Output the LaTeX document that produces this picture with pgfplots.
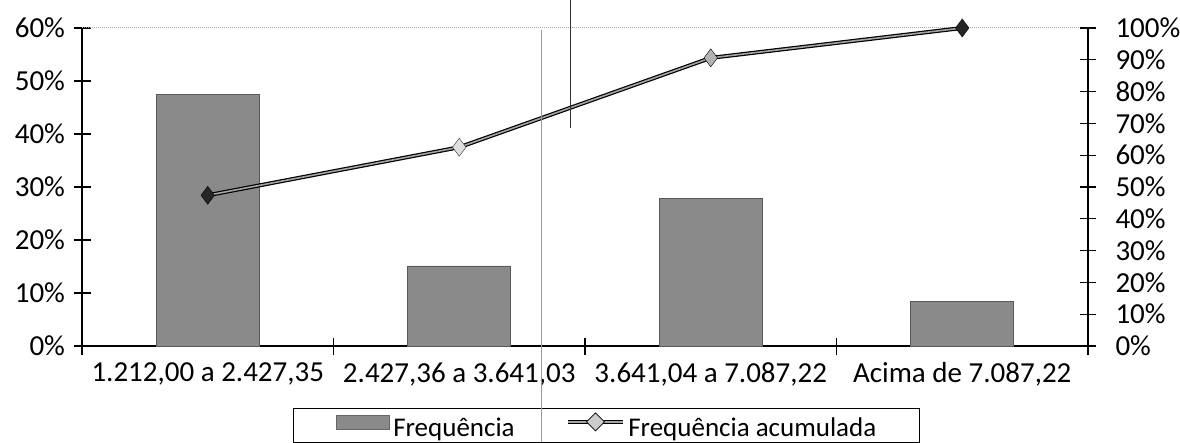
\documentclass[border=0pt]{standalone}
\usepackage{fontspec}
\setmainfont{Carlito}
\usepackage{pgfplots}
\pgfplotsset{compat=1.18}
\pgfplotstableread{
x freq
0 47.4
1 15.1
2 27.8
3 8.4
}\freqtab
\pgfplotstableread{
x cum cls
0 47.4 a
1 62.5 b
2 90.6 c
3 100.0 a
}\cumtab
\definecolor{barfill}{RGB}{138,138,138}
\definecolor{linegray}{RGB}{165,165,165}
\begin{document}
\begin{tikzpicture}
\pgfplotsset{
  base/.style={scale only axis, width=1006pt, height=318pt,
    at={(82pt,96pt)}, anchor=south west, xmin=-0.5, xmax=3.5,
    tick label style={font=\fontsize{29}{34}\selectfont},
    axis line style={black, line width=1.1pt},
    major tick style={black, line width=1.1pt},
    clip=false},
}
\begin{axis}[base, ymin=0, ymax=60,
  axis x line*=bottom, axis y line*=left,
  xtick={-0.5,0.5,1.5,2.5,3.5}, xticklabels={},
  tick align=center,
  major tick length=17pt,
  extra x ticks={0,1,2,3},
  extra x tick labels={{1.212,00 a 2.427,35},{2.427,36 a 3.641,03},{3.641,04 a 7.087,22},{Acima de 7.087,22}},
  extra x tick style={major tick length=0pt, tick label style={yshift=-13pt}},
  ytick={0,10,...,60},
  yticklabels={0\%,10\%,20\%,30\%,40\%,50\%,60\%},
  yticklabel style={xshift=-5pt},
  legend columns=2,
  legend cell align=left,
  legend style={at={(0.2097,-0.195)}, anchor=north west, draw=black, line width=1pt,
    font=\fontsize{27}{32}\selectfont, inner xsep=43pt, inner ysep=4pt,
    column sep=3pt,
    nodes={inner sep=0pt},
    /tikz/every even column/.append style={column sep=52pt}},
]
\draw[gray!70, densely dotted, line width=1pt] (rel axis cs:0,1) -- (rel axis cs:1,1);
\addplot[ybar, bar width=103pt, fill=barfill, draw=black!65, line width=0.8pt,
  legend image code/.code={\draw[fill=barfill,draw=black!60] (0pt,-1pt) rectangle (53pt,13pt);}]
  table[x=x, y=freq] {\freqtab};
\addlegendentry{Frequência}
\addlegendimage{legend image code/.code={
  \draw[black, line width=3.6pt] (0pt,6pt) -- (55pt,6pt);
  \draw[linegray, line width=1.6pt] (0pt,6pt) -- (55pt,6pt);
  \draw[black, fill=gray!40, line width=0.8pt] (27pt,-3pt) -- (36pt,6pt) -- (27pt,15pt) -- (18pt,6pt) -- cycle;}}
\addlegendentry{Frequência acumulada}
\end{axis}
\begin{axis}[base, ymin=0, ymax=100,
  axis x line=none, axis y line*=right,
  tick align=center, major tick length=16pt,
  ytick={0,10,...,100},
  yticklabels={0\%,10\%,20\%,30\%,40\%,50\%,60\%,70\%,80\%,90\%,100\%},
  yticklabel style={xshift=16pt},
]
\addplot[black, line width=4pt, no marks] table[x=x, y=cum] {\cumtab};
\addplot[linegray, line width=1.6pt, no marks] table[x=x, y=cum] {\cumtab};
\addplot[scatter, only marks, mark=diamond*, mark size=9pt,
  point meta=explicit symbolic,
  scatter/classes={a={mark=diamond*, fill=black!85, draw=black},
                   b={mark=diamond*, fill=gray!25, draw=black!80},
                   c={mark=diamond*, fill=gray!60, draw=black}}]
  table[x=x, y=cum, meta=cls] {\cumtab};
\end{axis}
% scan artefact lines
\draw[gray!80, line width=1pt] (541pt,412pt) -- (541pt,0pt);
\draw[black!80, line width=1pt] (570pt,442pt) -- (570pt,314pt);
\pgfresetboundingbox
\path[use as bounding box] (0,0) rectangle (1180pt,442pt);
\end{tikzpicture}
\end{document}
